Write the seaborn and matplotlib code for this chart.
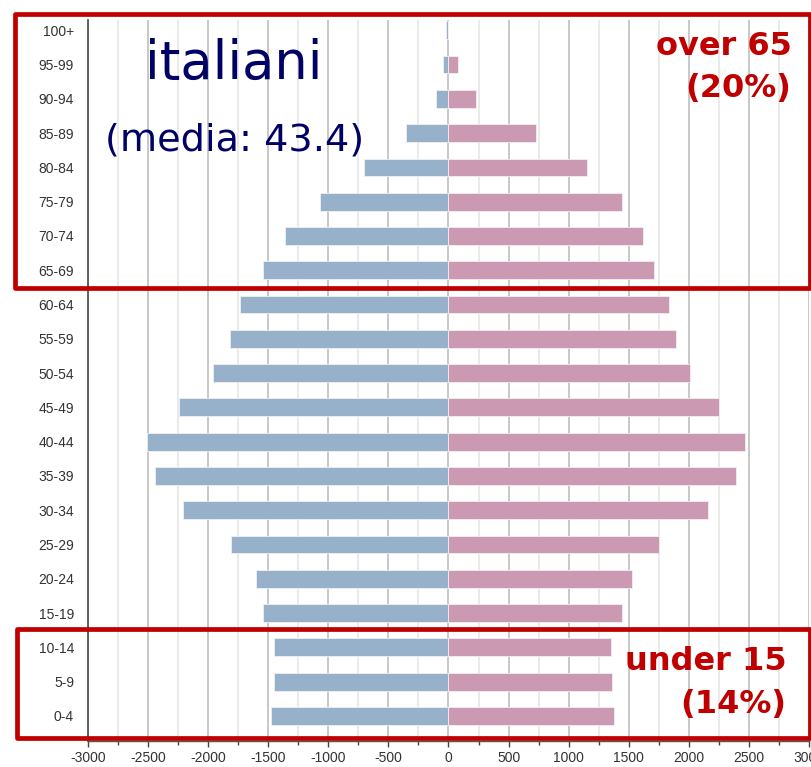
import matplotlib
matplotlib.use("Agg")
import matplotlib.pyplot as plt
import matplotlib.patches as patches
from matplotlib.ticker import MultipleLocator
import pandas as pd
import seaborn as sns

# age classes, top to bottom
ages = ["100+", "95-99", "90-94", "85-89", "80-84", "75-79", "70-74", "65-69",
        "60-64", "55-59", "50-54", "45-49", "40-44", "35-39", "30-34", "25-29",
        "20-24", "15-19", "10-14", "5-9", "0-4"]
# values (thousands)
maschi = [18, 47, 102, 355, 701, 1070, 1357, 1543,
          1737, 1820, 1959, 2244, 2505, 2441, 2211, 1806,
          1602, 1543, 1452, 1452, 1474]
femmine = [0, 83, 230, 729, 1153, 1444, 1615, 1707,
           1832, 1893, 2006, 2250, 2469, 2390, 2161, 1754,
           1524, 1444, 1352, 1363, 1374]
xticks = [-3000, -2500, -2000, -1500, -1000, -500, 0, 500, 1000, 1500, 2000, 2500, 3000]

df = pd.concat([
    pd.DataFrame({"eta": ages, "valore": [-v for v in maschi], "sesso": "M"}),
    pd.DataFrame({"eta": ages, "valore": femmine, "sesso": "F"}),
])

sns.set_style("white")
plt.rcParams["font.family"] = ["Liberation Sans", "DejaVu Sans"]
plt.rcParams["axes.unicode_minus"] = False

fig = plt.figure(figsize=(8.12, 7.67), dpi=100)
ax = fig.add_axes([88 / 812, 1 - 741 / 767, 721 / 812, (741 - 20) / 767])

ax.xaxis.set_major_locator(MultipleLocator(500))
ax.xaxis.set_minor_locator(MultipleLocator(250))
ax.grid(which="major", axis="x", color="#c4c4c4", lw=1.3)
ax.grid(which="minor", axis="x", color="#e8e8e8", lw=1.3)
ax.set_axisbelow(True)

sns.barplot(data=df, y="eta", x="valore", hue="sesso", order=ages,
            palette={"M": "#97b1cb", "F": "#cc99b3"}, dodge=False, saturation=1,
            width=0.52, legend=False, ax=ax, edgecolor="#f0f0f0", linewidth=0.6)

ax.set_xlim(-3000, 3000)
ax.set_ylim(20.73, -0.3)
ax.set_xticks(xticks)
ax.set_xticklabels([str(t) for t in xticks])
ax.set_xlabel("")
ax.set_ylabel("")
for s in ["top", "right"]:
    ax.spines[s].set_visible(False)
ax.spines["left"].set_color("#555555")
ax.spines["left"].set_linewidth(1.3)
ax.spines["bottom"].set_color("#555555")
ax.spines["bottom"].set_linewidth(1.0)
ax.tick_params(axis="y", length=0, pad=10, labelsize=10, labelcolor="#333333")
ax.tick_params(axis="x", which="both", direction="out", length=4, width=1,
               color="#444444", pad=3, labelsize=10, labelcolor="#333333", bottom=True)
ax.tick_params(axis="x", which="minor", length=3)

# annotations
navy = "#000066"
red = "#c00000"
fig.text(234 / 812, 1 - 79 / 767, "italiani", ha="center", va="baseline",
         fontsize=38, color=navy, family="DejaVu Sans")
fig.text(235 / 812, 1 - 150 / 767, "(media: 43.4)", ha="center", va="baseline",
         fontsize=27.5, color=navy, family="DejaVu Sans")
fig.text(792 / 812, 1 - 55 / 767, "over 65", ha="right", va="baseline",
         fontsize=23, color=red, weight="bold", family="DejaVu Sans")
fig.text(791 / 812, 1 - 97 / 767, "(20%)", ha="right", va="baseline",
         fontsize=23, color=red, weight="bold", family="DejaVu Sans")
fig.text(787 / 812, 1 - 670 / 767, "under 15", ha="right", va="baseline",
         fontsize=23, color=red, weight="bold", family="DejaVu Sans")
fig.text(786 / 812, 1 - 713 / 767, "(14%)", ha="right", va="baseline",
         fontsize=23, color=red, weight="bold", family="DejaVu Sans")

# boxes
def box(x0, y0, x1, y1):
    fig.add_artist(patches.Rectangle((x0 / 812, 1 - y1 / 767), (x1 - x0) / 812,
                                     (y1 - y0) / 767, transform=fig.transFigure,
                                     fill=False, edgecolor=red, lw=3.4,
                                     joinstyle="round"))

box(15.5, 14, 810, 287.5)
box(17, 629, 810, 737.5)

fig.savefig("out.png", dpi=100)
